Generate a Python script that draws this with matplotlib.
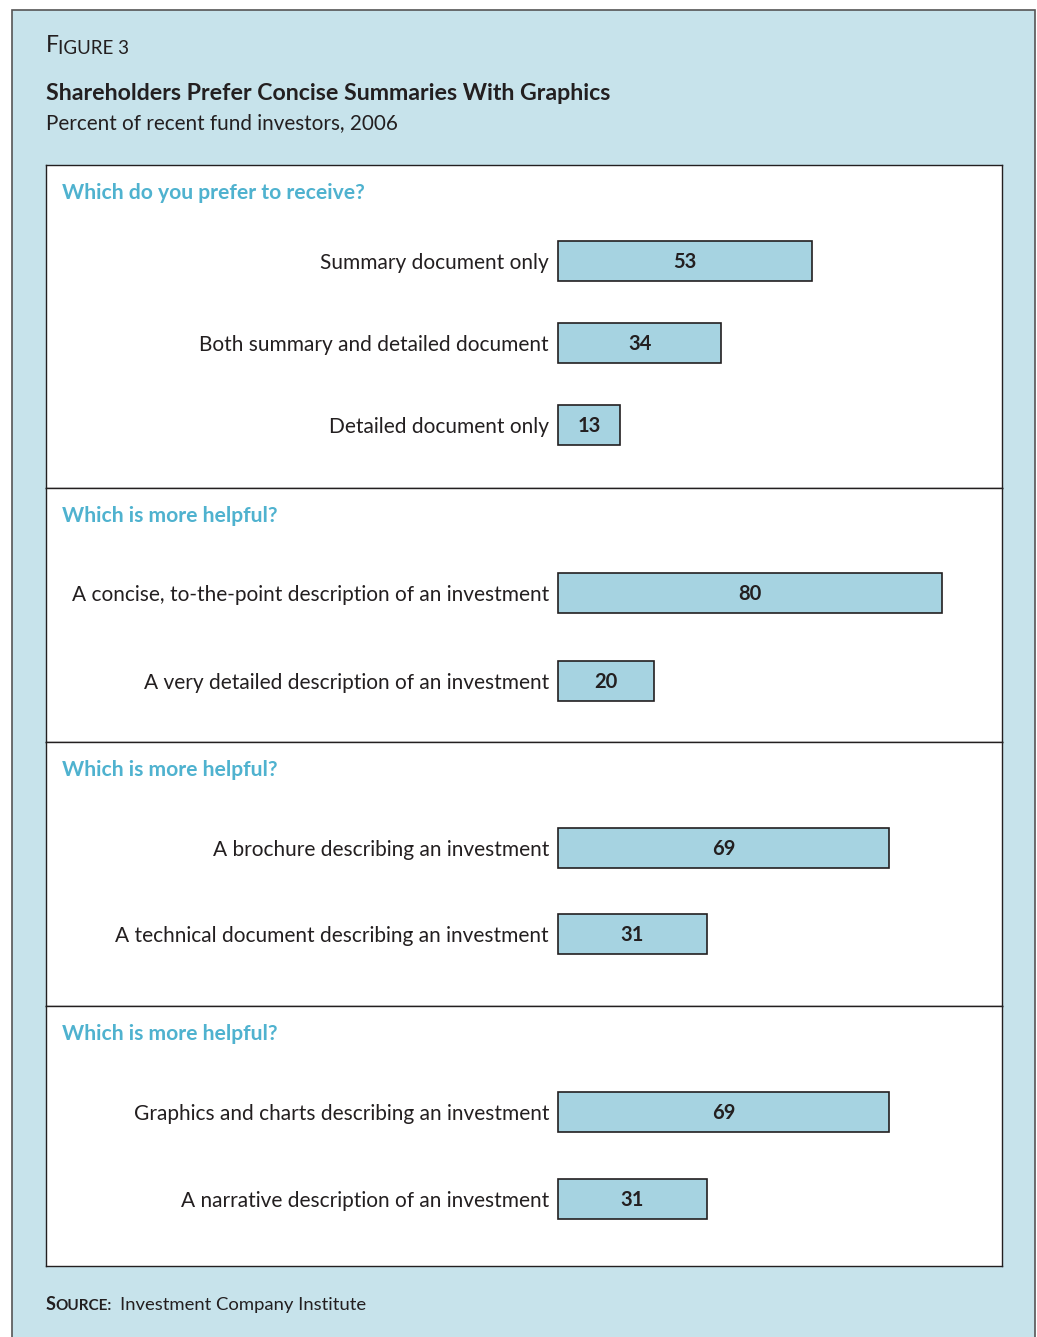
import matplotlib
matplotlib.use("Agg")
import matplotlib.pyplot as plt
from matplotlib.patches import Rectangle

# survey results, percent of recent fund investors (2006)
questions = [
    "Which do you prefer to receive?",
    "Which is more helpful?",
    "Which is more helpful?",
    "Which is more helpful?",
]
answers = [
    ["Summary document only", "Both summary and detailed document", "Detailed document only"],
    ["A concise, to-the-point description of an investment", "A very detailed description of an investment"],
    ["A brochure describing an investment", "A technical document describing an investment"],
    ["Graphics and charts describing an investment", "A narrative description of an investment"],
]
shares = [
    [53, 34, 13],
    [80, 20],
    [69, 31],
    [69, 31],
]

W, H = 1037, 1337
BG = "#c7e3eb"
BAR = "#a6d3e1"
HEAD = "#4fb2cf"
INK = "#231f20"
FONT = "Lato"

fig = plt.figure(figsize=(W / 100, H / 100), dpi=100)


def fx(x):
    return x / W


def fy(y):
    return 1 - y / H


# light blue frame behind everything
fig.patches.append(Rectangle((fx(12), fy(1340)), fx(1035) - fx(12), fy(10) - fy(1340),
                             transform=fig.transFigure, facecolor=BG,
                             edgecolor="#555555", lw=1.2, zorder=-5))

fig.text(fx(46), fy(46), "F", fontsize=16.5, family=FONT, color=INK, va="center")
fig.text(fx(58), fy(48), "IGURE 3", fontsize=13.5, family=FONT, color=INK, va="center")
fig.text(fx(46), fy(93), "Shareholders Prefer Concise Summaries With Graphics",
         fontsize=16.7, family=FONT, weight="bold", color=INK, va="center")
fig.text(fx(46), fy(123), "Percent of recent fund investors, 2006",
         fontsize=14.9, family=FONT, color=INK, va="center")

# panel extents in pixels (top, bottom) and row offsets from panel top
panel_edges = [(165, 488), (488, 742), (742, 1006), (1006, 1266)]
row_offsets = [[96, 178, 260], [105, 193], [106, 192], [106, 193]]

left, right = 46, 1002
x0 = 558          # where bars start
px_per_pt = 4.8   # horizontal scale

for q, labels, vals, (top, bot), offs in zip(questions, answers, shares, panel_edges, row_offsets):
    ax = fig.add_axes([fx(left), fy(bot), fx(right) - fx(left), fy(top) - fy(bot)])
    ax.set_xlim(-(x0 - left) / px_per_pt, (right - x0) / px_per_pt)
    ax.set_ylim(bot - top, 0)
    ax.set_facecolor("white")
    for s in ax.spines.values():
        s.set_color(INK)
        s.set_linewidth(1.0)
    ax.set_xticks([])
    ax.set_yticks([])

    ax.barh(offs, vals, height=40, left=0, color=BAR, edgecolor=INK, linewidth=1.2)
    for y, lab, v in zip(offs, labels, vals):
        ax.text(-9 / px_per_pt, y + 2, lab, ha="right", va="center",
                fontsize=15, family=FONT, color=INK)
        ax.text(v / 2, y + 1, str(v), ha="center", va="center",
                fontsize=14.5, family=FONT, weight="bold", color=INK)

    ax.text(-(x0 - 62) / px_per_pt, 28, q, ha="left", va="center",
            fontsize=15.2, family=FONT, weight="bold", color=HEAD)

fig.text(fx(46), fy(1305), "S", fontsize=13, family=FONT, weight="bold", color=INK, va="center")
fig.text(fx(55), fy(1306), "OURCE:", fontsize=11, family=FONT, weight="bold", color=INK, va="center")
fig.text(fx(120), fy(1305), "Investment Company Institute", fontsize=13.3, family=FONT,
         color=INK, va="center")

fig.savefig("out.png", dpi=100, facecolor="white")
